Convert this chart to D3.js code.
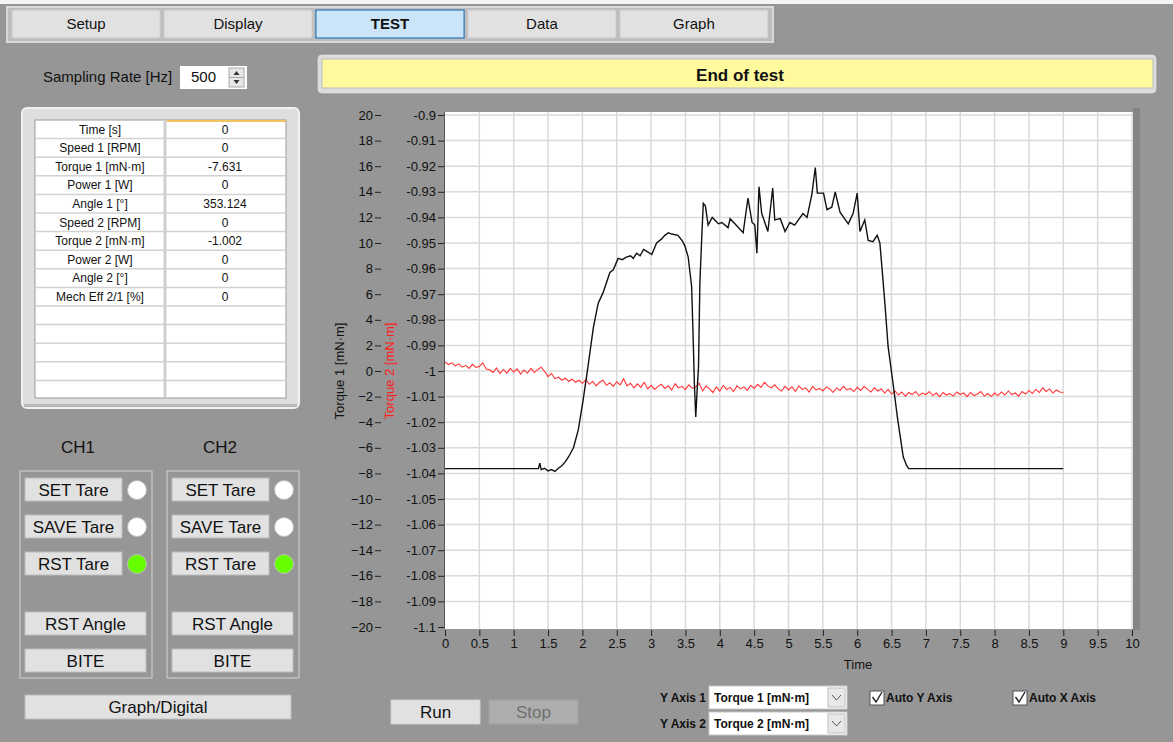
<!DOCTYPE html>
<html>
<head>
<meta charset="utf-8">
<script src="https://cdn.jsdelivr.net/npm/d3@7"></script>
<style>
body { margin: 0; background: #969696; overflow: hidden; }
text { font-family: "Liberation Sans", Arial, sans-serif; fill: #111; }
</style>
</head>
<body>
<svg id="ui" width="1173" height="742"></svg>
<script>
// front panel of the torque test VI, graph drawn with d3 scales

var tabNames = ["Setup", "Display", "TEST", "Data", "Graph"];
var activeTab = "TEST";

var tableLabels = ["Time [s]", "Speed 1 [RPM]", "Torque 1 [mN\u00b7m]", "Power 1 [W]", "Angle 1 [\u00b0]",
                   "Speed 2 [RPM]", "Torque 2 [mN\u00b7m]", "Power 2 [W]", "Angle 2 [\u00b0]", "Mech Eff 2/1 [%]"];
var tableValues = ["0", "0", "-7.631", "0", "353.124", "0", "-1.002", "0", "0", "0"];

var statusText = "End of test";
var samplingRate = "500";

// Torque 1 (left axis, mN·m) as [time, value]
var torque1 = [[0,-7.63],[1.36,-7.63],[1.38,-7.2],[1.40,-7.7],[1.45,-7.6],[1.5,-7.8],[1.55,-7.7],[1.6,-7.85],
  [1.65,-7.6],[1.7,-7.4],[1.75,-7.1],[1.8,-6.7],[1.87,-6.0],[1.94,-4.6],[2.01,-2.3],[2.08,0.3],[2.16,3.4],
  [2.23,5.3],[2.3,6.1],[2.4,7.7],[2.45,7.9],[2.52,8.8],[2.58,8.7],[2.64,8.9],[2.7,9.0],[2.74,8.8],[2.79,9.2],
  [2.84,9.0],[2.89,9.5],[2.95,9.3],[3.01,9.1],[3.08,10.0],[3.15,10.3],[3.2,10.6],[3.25,10.8],[3.3,10.7],
  [3.39,10.6],[3.45,10.2],[3.49,9.8],[3.54,8.9],[3.59,6.6],[3.61,3.0],[3.63,-1.0],[3.65,-3.6],[3.67,-1.5],
  [3.69,0.3],[3.71,6.9],[3.74,10.8],[3.76,13.1],[3.79,12.9],[3.83,11.4],[3.89,12.0],[3.98,11.5],[4.03,11.6],
  [4.12,11.2],[4.15,11.9],[4.22,11.5],[4.34,10.8],[4.41,13.5],[4.47,11.6],[4.51,11.4],[4.54,9.2],[4.57,14.4],
  [4.61,12.3],[4.7,10.9],[4.77,14.3],[4.8,11.8],[4.88,11.9],[4.95,10.9],[5.02,11.6],[5.09,11.4],[5.21,12.3],
  [5.27,12.0],[5.34,13.8],[5.39,15.9],[5.42,13.9],[5.51,13.9],[5.56,12.6],[5.63,12.8],[5.68,14.0],[5.75,12.4],
  [5.87,11.5],[5.94,12.3],[6.0,13.9],[6.04,10.9],[6.11,11.8],[6.16,10.2],[6.23,10.1],[6.29,10.6],[6.33,10.0],
  [6.36,8.1],[6.40,5.5],[6.45,1.9],[6.52,-0.9],[6.59,-3.8],[6.67,-6.7],[6.72,-7.4],[6.75,-7.63],[9.0,-7.63]];

// Torque 2 (right scale, mN·m), one reading every 0.05 s from t = 0
var torque2Step = 0.05;
var torque2 = [
  -0.9965,-0.9975,-0.9968,-0.9980,-0.9972,-0.9985,-0.9978,-0.9990,-0.9974,-0.9986,
  -0.9982,-0.9968,-0.9992,-0.9995,-1.0006,-0.9988,-1.0010,-0.9994,-1.0008,-0.9990,
  -1.0004,-0.9992,-1.0012,-0.9996,-1.0008,-0.9990,-1.0006,-0.9994,-0.9985,-1.0002,
  -1.0022,-1.0010,-1.0030,-1.0024,-1.0036,-1.0028,-1.0040,-1.0032,-1.0044,-1.0036,
  -1.0048,-1.0034,-1.0052,-1.0040,-1.0058,-1.0044,-1.0036,-1.0056,-1.0046,-1.0060,
  -1.0042,-1.0054,-1.0030,-1.0058,-1.0048,-1.0066,-1.0050,-1.0064,-1.0044,-1.0070,
  -1.0056,-1.0072,-1.0060,-1.0052,-1.0068,-1.0058,-1.0074,-1.0050,-1.0066,-1.0060,
  -1.0072,-1.0054,-1.0068,-1.0062,-1.0048,-1.0078,-1.0058,-1.0070,-1.0084,-1.0062,
  -1.0078,-1.0056,-1.0072,-1.0064,-1.0080,-1.0058,-1.0070,-1.0062,-1.0076,-1.0056,
  -1.0068,-1.0052,-1.0064,-1.0044,-1.0058,-1.0066,-1.0054,-1.0070,-1.0078,-1.0060,
  -1.0074,-1.0062,-1.0080,-1.0058,-1.0072,-1.0066,-1.0082,-1.0060,-1.0074,-1.0068,
  -1.0078,-1.0062,-1.0070,-1.0084,-1.0066,-1.0076,-1.0060,-1.0074,-1.0068,-1.0080,
  -1.0064,-1.0076,-1.0060,-1.0072,-1.0082,-1.0066,-1.0078,-1.0070,-1.0086,-1.0072,
  -1.0090,-1.0078,-1.0094,-1.0082,-1.0098,-1.0084,-1.0092,-1.0080,-1.0096,-1.0086,
  -1.0092,-1.0080,-1.0096,-1.0086,-1.0100,-1.0084,-1.0094,-1.0088,-1.0098,-1.0082,
  -1.0092,-1.0086,-1.0100,-1.0084,-1.0096,-1.0090,-1.0080,-1.0098,-1.0088,-1.0100,
  -1.0086,-1.0096,-1.0082,-1.0094,-1.0078,-1.0092,-1.0086,-1.0098,-1.0080,-1.0090,
  -1.0076,-1.0088,-1.0072,-1.0084,-1.0066,-1.0080,-1.0070,-1.0086,-1.0074,-1.0082,
  -1.0084];

var yTicks1 = d3.range(-20, 21, 2);
var yTicks2 = [-1.1,-1.09,-1.08,-1.07,-1.06,-1.05,-1.04,-1.03,-1.02,-1.01,-1,-0.99,-0.98,-0.97,-0.96,-0.95,-0.94,-0.93,-0.92,-0.91,-0.9];
var xTicks = d3.range(0, 10.01, 0.5);

var svg = d3.select("#ui");

// little helper for the flat LabVIEW buttons
function button(x, y, w, h, label, opts) {
  opts = opts || {};
  svg.append("rect").attr("x", x).attr("y", y).attr("width", w).attr("height", h)
    .attr("fill", opts.fill || "#e1e1e1").attr("stroke", opts.stroke || "#adadad").attr("stroke-width", 1);
  svg.append("text").attr("x", x + w / 2).attr("y", y + h / 2).attr("dy", "0.36em")
    .attr("text-anchor", "middle").style("font-size", (opts.size || 17) + "px")
    .style("fill", opts.color || "#111").style("font-weight", opts.bold ? "bold" : null)
    .text(label);
}

// top strip + tab bar
svg.append("rect").attr("x", 0).attr("y", 0).attr("width", 1173).attr("height", 4).attr("fill", "#f4f4f4");
svg.append("rect").attr("x", 7).attr("y", 7).attr("width", 766).attr("height", 35)
  .attr("fill", "#bdbdbd").attr("stroke", "#d8d8d8").attr("stroke-width", 2);
var tabX = d3.scaleBand().domain(tabNames).range([12, 768]).paddingInner(0.025);
tabNames.forEach(function(t) {
  var act = t == activeTab;
  button(tabX(t), 10, tabX.bandwidth(), 28, t, {
    fill: act ? "#cce4f7" : "#e1e1e1", stroke: act ? "#0a64b4" : "#c8c8c8", size: 15, bold: act });
});

// sampling rate control
svg.append("text").attr("x", 43).attr("y", 77).attr("dy", "0.36em").style("font-size", "15px").text("Sampling Rate [Hz]");
svg.append("rect").attr("x", 180).attr("y", 66).attr("width", 67).attr("height", 23).attr("fill", "#fff");
svg.append("text").attr("x", 216).attr("y", 77).attr("dy", "0.36em").attr("text-anchor", "end").style("font-size", "15px").text(samplingRate);
svg.append("rect").attr("x", 229).attr("y", 68).attr("width", 15).attr("height", 19).attr("fill", "#e6e6e6").attr("stroke", "#aaa");
svg.append("line").attr("x1", 229).attr("x2", 244).attr("y1", 77.5).attr("y2", 77.5).attr("stroke", "#aaa");
svg.append("path").attr("d", "M233.5,75 L236.5,71 L239.5,75 Z M233.5,80 L236.5,84 L239.5,80 Z").attr("fill", "#333");

// indicator table
svg.append("rect").attr("x", 22).attr("y", 108).attr("width", 277).attr("height", 300).attr("rx", 5)
  .attr("fill", "#dedede").attr("stroke", "#f2f2f2").attr("stroke-width", 2);
svg.append("rect").attr("x", 24).attr("y", 404).attr("width", 273).attr("height", 3).attr("fill", "#b8b8b8");
svg.append("rect").attr("x", 35).attr("y", 120).attr("width", 251).attr("height", 278).attr("fill", "#fff").attr("stroke", "#9a9a9a");
var rowY = d3.scaleLinear().domain([0, 15]).range([120, 399]);
d3.range(1, 15).forEach(function(i) {
  svg.append("line").attr("x1", 35).attr("x2", 286).attr("y1", rowY(i)).attr("y2", rowY(i)).attr("stroke", "#d2d2d2").attr("stroke-width", 1.5);
});
svg.append("line").attr("x1", 165).attr("x2", 165).attr("y1", 120).attr("y2", 398).attr("stroke", "#cfcfcf").attr("stroke-width", 3);
svg.append("line").attr("x1", 167).attr("x2", 286).attr("y1", 121).attr("y2", 121).attr("stroke", "#f2c25c").attr("stroke-width", 2);
tableLabels.forEach(function(l, i) {
  var cy = (rowY(i) + rowY(i + 1)) / 2;
  svg.append("text").attr("x", 100).attr("y", cy).attr("dy", "0.36em").attr("text-anchor", "middle").style("font-size", "12px").text(l);
  svg.append("text").attr("x", 225).attr("y", cy).attr("dy", "0.36em").attr("text-anchor", "middle").style("font-size", "12px").text(tableValues[i]);
});

// status bar
svg.append("rect").attr("x", 317).attr("y", 54).attr("width", 840).attr("height", 40).attr("rx", 5)
  .attr("fill", "#dcdcdc").attr("stroke", "#8c8c8c");
svg.append("rect").attr("x", 322).attr("y", 59).attr("width", 831).attr("height", 29).attr("fill", "#fffa9e").attr("stroke", "#bdbdbd");
svg.append("text").attr("x", 740).attr("y", 75).attr("dy", "0.36em").attr("text-anchor", "middle")
  .style("font-size", "17px").style("font-weight", "bold").text(statusText);

// channel tare blocks
[["CH1", 20, 78], ["CH2", 167, 220]].forEach(function(ch) {
  var x0 = ch[1];
  svg.append("text").attr("x", ch[2]).attr("y", 447).attr("dy", "0.36em").attr("text-anchor", "middle").style("font-size", "17px").text(ch[0]);
  svg.append("rect").attr("x", x0).attr("y", 471).attr("width", 132).attr("height", 207).attr("fill", "none").attr("stroke", "#d4d4d4");
  [["SET Tare", 478, "#ffffff"], ["SAVE Tare", 515, "#ffffff"], ["RST Tare", 552, "#66ff00"]].forEach(function(b) {
    button(x0 + 5, b[1], 97, 23, b[0], { stroke: "#bcbcbc" });
    svg.append("circle").attr("cx", x0 + 117).attr("cy", b[1] + 12).attr("r", 9.5).attr("fill", b[2]).attr("stroke", "#bdbdbd");
  });
  button(x0 + 5, 612, 121, 23, "RST Angle", { stroke: "#bcbcbc" });
  button(x0 + 5, 649, 121, 23, "BITE", { stroke: "#bcbcbc" });
});
button(25, 695, 266, 24, "Graph/Digital", { stroke: "#bcbcbc" });

// ---- graph ----
var x = d3.scaleLinear().domain([0, 10]).range([445, 1132]);
var y1 = d3.scaleLinear().domain([-20, 20]).range([627, 115]);
var y2 = d3.scaleLinear().domain([-1.1, -0.9]).range([627, 115]);

svg.append("rect").attr("x", 445).attr("y", 112).attr("width", 688).attr("height", 517).attr("fill", "#fff");
svg.append("rect").attr("x", 1133).attr("y", 108).attr("width", 7).attr("height", 522).attr("fill", "#858585");

var grid = svg.append("g").attr("stroke", "#dadada").attr("stroke-width", 1.5);
grid.selectAll(".gx").data(xTicks.slice(1)).enter().append("line")
  .attr("x1", function(d) { return x(d); }).attr("x2", function(d) { return x(d); })
  .attr("y1", 112).attr("y2", 629);
grid.selectAll(".gy").data(yTicks1.slice(1)).enter().append("line")
  .attr("x1", 445).attr("x2", 1133)
  .attr("y1", function(d) { return y1(d); }).attr("y2", function(d) { return y1(d); });

function styleAxis(g) {
  g.select(".domain").remove();
  g.selectAll(".tick line").attr("stroke", "#222");
  g.selectAll(".tick text").style("font-size", "13px").style("fill", "#111")
    .style("font-family", "'Liberation Sans', Arial, sans-serif");
}

svg.append("g").attr("transform", "translate(381,0)")
  .call(d3.axisLeft(y1).tickValues(yTicks1).tickSize(6).tickPadding(2).tickFormat(d3.format("d")))
  .call(styleAxis);
svg.append("g").attr("transform", "translate(444,0)")
  .call(d3.axisLeft(y2).tickValues(yTicks2).tickSize(6).tickPadding(2).tickFormat(function(d) { return String(+d.toFixed(2)); }))
  .call(styleAxis);
svg.append("line").attr("x1", 444.5).attr("x2", 444.5).attr("y1", 112).attr("y2", 629).attr("stroke", "#555");
svg.append("g").attr("transform", "translate(0,630)")
  .call(d3.axisBottom(x).tickValues(xTicks).tickSize(6).tickPadding(3).tickFormat(function(d) { return String(d); }))
  .call(styleAxis);

svg.append("text").attr("x", 858).attr("y", 664).attr("dy", "0.36em").attr("text-anchor", "middle").style("font-size", "13px").text("Time");
svg.append("text").attr("transform", "translate(344,371) rotate(-90)").attr("text-anchor", "middle")
  .style("font-size", "13px").text("Torque 1 [mN\u00b7m]");
svg.append("text").attr("transform", "translate(394,371) rotate(-90)").attr("text-anchor", "middle")
  .style("font-size", "13px").style("fill", "#ff2020").text("Torque 2 [mN\u00b7m]");

var plot = svg.append("g");
plot.append("path").datum(torque2)
  .attr("fill", "none").attr("stroke", "#ff3535").attr("stroke-width", 1.1)
  .attr("d", d3.line().x(function(d, i) { return x(i * torque2Step); }).y(function(d) { return y2(d); }));
plot.append("path").datum(torque1)
  .attr("fill", "none").attr("stroke", "#111").attr("stroke-width", 1.4)
  .attr("d", d3.line().x(function(d) { return x(d[0]); }).y(function(d) { return y1(d[1]); }));

// run / stop
button(391, 700, 89, 24, "Run", { stroke: "#cfcfcf" });
button(489, 700, 89, 24, "Stop", { fill: "#adadad", stroke: "#a0a0a0", color: "#707070" });

// axis selectors
[["Y Axis 1", "Torque 1 [mN\u00b7m]", 686], ["Y Axis 2", "Torque 2 [mN\u00b7m]", 712]].forEach(function(s) {
  svg.append("text").attr("x", 706).attr("y", s[2] + 11.5).attr("dy", "0.36em").attr("text-anchor", "end")
    .style("font-size", "12px").style("font-weight", "bold").text(s[0]);
  svg.append("rect").attr("x", 709).attr("y", s[2]).attr("width", 138).attr("height", 23).attr("fill", "#fff").attr("stroke", "#c8c8c8");
  svg.append("text").attr("x", 714).attr("y", s[2] + 11.5).attr("dy", "0.36em").style("font-size", "12px").style("font-weight", "bold").text(s[1]);
  svg.append("rect").attr("x", 828).attr("y", s[2] + 2).attr("width", 17).attr("height", 19).attr("fill", "#e8e8e8").attr("stroke", "#c0c0c0");
  svg.append("path").attr("d", "M832," + (s[2] + 9) + " L836.5," + (s[2] + 14) + " L841," + (s[2] + 9))
    .attr("fill", "none").attr("stroke", "#555");
});

[["Auto Y Axis", 870], ["Auto X Axis", 1013]].forEach(function(c) {
  svg.append("rect").attr("x", c[1]).attr("y", 691).attr("width", 14).attr("height", 14).attr("fill", "#fff").attr("stroke", "#555");
  svg.append("path").attr("d", "M" + (c[1] + 2.5) + ",697 L" + (c[1] + 6) + ",702 L" + (c[1] + 12) + ",692")
    .attr("fill", "none").attr("stroke", "#222").attr("stroke-width", 1.4);
  svg.append("text").attr("x", c[1] + 16).attr("y", 698).attr("dy", "0.36em")
    .style("font-size", "12px").style("font-weight", "bold").text(c[0]);
});
</script>
</body>
</html>
